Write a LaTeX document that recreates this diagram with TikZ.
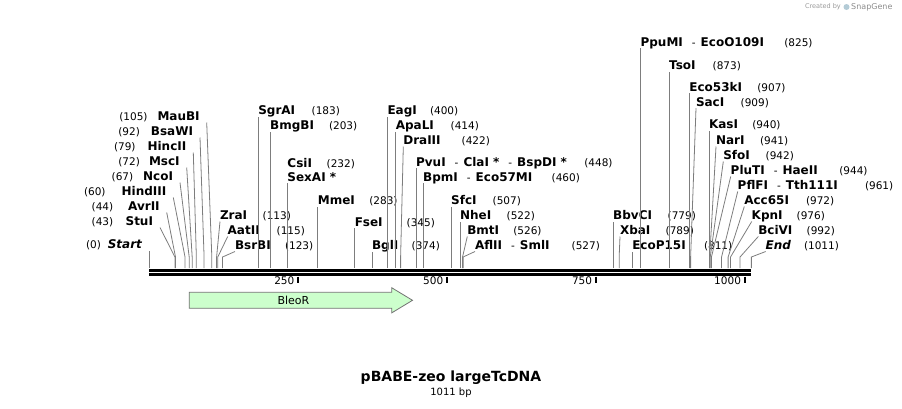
\documentclass[tikz,border=0pt]{standalone}
\usepackage{fontspec}
\setmainfont{DejaVu Sans}
\definecolor{cutgray}{RGB}{125,125,125}
\definecolor{bleogreen}{RGB}{204,255,204}
\definecolor{bleoedge}{RGB}{115,115,115}
\newcommand{\alsocut}{\hspace{9pt}{\mdseries\fontsize{10.5}{12}\selectfont-}\hspace{5pt}}
\tikzset{
  cut/.style={draw=cutgray,line width=.8pt},
  enz/.style={inner sep=0pt,outer sep=0pt,text depth=2.2pt,anchor=south west,font=\fontsize{12}{14}\selectfont\bfseries},
  enzl/.style={enz,anchor=south east,outer xsep=7pt},
  bpn/.style={enz,font=\fontsize{10.5}{12}\selectfont},
  tick/.style={line width=1.7pt},
  ticklabel/.style={inner sep=0pt,font=\fontsize{10.5}{12}\selectfont},
}
\begin{document}
\begin{tikzpicture}[x=1pt,y=-1pt]
\useasboundingbox (0,0) rectangle (902,408);
% map in bp
\begin{scope}[x=0.5955pt,xshift=149.3pt]
\coordinate (s0) at (0,268);       \coordinate (s43) at (43,268);   \coordinate (s44) at (44,268);
\coordinate (s60) at (60,268);     \coordinate (s67) at (67,268);   \coordinate (s72) at (72,268);
\coordinate (s79) at (79,268);     \coordinate (s92) at (92,268);   \coordinate (s105) at (105,268);
\coordinate (s113) at (113,268);   \coordinate (s115) at (115,268); \coordinate (s123) at (123,268);
\coordinate (s183) at (183,268);   \coordinate (s203) at (203,268); \coordinate (s232) at (232,268);
\coordinate (s283) at (283,268);   \coordinate (s345) at (345,268); \coordinate (s374) at (374,268);
\coordinate (s400) at (400,268);   \coordinate (s414) at (414,268); \coordinate (s422) at (422,268);
\coordinate (s448) at (448,268);   \coordinate (s460) at (460,268); \coordinate (s507) at (507,268);
\coordinate (s522) at (522,268);   \coordinate (s526) at (526,268); \coordinate (s527) at (527,268);
\coordinate (s779) at (779,268);   \coordinate (s789) at (789,268); \coordinate (s811) at (811,268);
\coordinate (s825) at (825,268);   \coordinate (s873) at (873,268); \coordinate (s907) at (907,268);
\coordinate (s909) at (909,268);   \coordinate (s940) at (940,268); \coordinate (s941) at (941,268);
\coordinate (s942) at (942,268);   \coordinate (s944) at (944,268); \coordinate (s961) at (961,268);
\coordinate (s972) at (972,268);   \coordinate (s976) at (976,268); \coordinate (s992) at (992,268);
\coordinate (s1011) at (1011,268);
\coordinate (bbl) at (0,270.3);    \coordinate (bbr) at (1011,270.3);
% backbone
\draw[line width=2.7pt] (bbl) -- (bbr);
\draw[line width=2.3pt] ([yshift=-4.2pt]bbl) -- ([yshift=-4.2pt]bbr);
% ticks
\draw[tick] (250,276.5) -- (250,283) node (t250) [pos=.7,left=3pt,ticklabel] {250};
\draw[tick] (500,276.5) -- (500,283) node (t500) [pos=.7,left=3pt,ticklabel] {500};
\draw[tick] (750,276.5) -- (750,283) node (t750) [pos=.7,left=3pt,ticklabel] {750};
\draw[tick] (1000,276.5) -- (1000,283) node (t1000) [pos=.7,left=3pt,ticklabel] {1000};
% feature
\draw[draw=bleoedge,fill=bleogreen,line width=.8pt] (67,292.3) -- (407,292.3) -- (407,287.7)
  -- (442,300.3) -- (407,312.9) -- (407,308.3) -- (67,308.3) -- cycle;
\node (bleor) at (242,300.3) {\fontsize{11}{12}\selectfont BleoR};
\end{scope}

% enzymes, left column
\node[enzl] (maubi) at (206.7,122.5) {MauBI};
\node[enzl] (bsawi) at (200,137.5) {BsaWI};
\node[enzl] (hincii) at (193.3,152.5) {HincII};
\node[enzl] (msci) at (186.7,167.5) {MscI};
\node[enzl] (ncoi) at (180,182.5) {NcoI};
\node[enzl] (hindiii) at (173.3,197.5) {HindIII};
\node[enzl] (avrii) at (166.7,212.5) {AvrII};
\node[enzl] (stui) at (160,227.5) {StuI};
\node[enzl] (start) at (s0 |- 0,250.5) {\textit{Start}};
\node[bpn] (n105) at (119.3,122.5) {(105)};
\node[bpn] (n92) at (118.3,137.5) {(92)};
\node[bpn] (n79) at (114,152.5) {(79)};
\node[bpn] (n72) at (118.3,167.5) {(72)};
\node[bpn] (n67) at (111.7,182.5) {(67)};
\node[bpn] (n60) at (84,197.5) {(60)};
\node[bpn] (n44) at (91.7,212.5) {(44)};
\node[bpn] (n43) at (91.7,227.5) {(43)};
\node[bpn] (n0) at (86,250.5) {(0)};
\draw[cut] (s105) -- ++(0,-11) -- (maubi.south east);
\draw[cut] (s92) -- ++(0,-11) -- (bsawi.south east);
\draw[cut] (s79) -- ++(0,-11) -- (hincii.south east);
\draw[cut] (s72) -- ++(0,-11) -- (msci.south east);
\draw[cut] (s67) -- ++(0,-11) -- (ncoi.south east);
\draw[cut] (s60) -- ++(0,-11) -- (hindiii.south east);
\draw[cut] (s44) -- ++(0,-11) -- (avrii.south east);
\draw[cut] (s43) -- ++(0,-11) -- (stui.south east);
\draw[cut] (s0) -- (start.south east);

% enzymes, right of their lines
\node[enz] (zrai) at (220,221.5) {ZraI};
\node[enz] (aatii) at (227.7,236.5) {AatII};
\node[enz] (bsrbi) at (235,251.5) {BsrBI};
\node[enz] (sgrai) at (s183 |- 0,116.5) {SgrAI};
\node[enz] (bmgbi) at (s203 |- 0,131.5) {BmgBI};
\node[enz] (csii) at (s232 |- 0,169.8) {CsiI};
\node[enz] (sexai) at (s232 |- 0,183.2) {SexAI *};
\node[enz] (mmei) at (s283 |- 0,206.5) {MmeI};
\node[enz] (fsei) at (s345 |- 0,228.2) {FseI};
\node[enz] (bgli) at (s374 |- 0,251.5) {BglI};
\node[enz] (eagi) at (s400 |- 0,116.5) {EagI};
\node[enz] (apali) at (s414 |- 0,131.5) {ApaLI};
\node[enz] (draiii) at (403.3,146.5) {DraIII};
\node[enz] (pvui) at (s448 |- 0,168.2) {PvuI\alsocut ClaI *\alsocut BspDI *};
\node[enz] (bpmi) at (s460 |- 0,183.2) {BpmI\alsocut Eco57MI};
\node[enz] (sfci) at (s507 |- 0,206.5) {SfcI};
\node[enz] (nhei) at (s522 |- 0,221.5) {NheI};
\node[enz] (bmti) at (467.3,236.5) {BmtI};
\node[enz] (aflii) at (475,251.5) {AflII\alsocut SmlI};
\node[enz] (bbvci) at (s779 |- 0,221.5) {BbvCI};
\node[enz] (xbai) at (620,236.5) {XbaI};
\node[enz] (ecop15i) at (s811 |- 0,251.5) {EcoP15I};
\node[enz] (ppumi) at (s825 |- 0,48.2) {PpuMI\alsocut EcoO109I};
\node[enz] (tsoi) at (s873 |- 0,71.5) {TsoI};
\node[enz] (eco53ki) at (s907 |- 0,93.2) {Eco53kI};
\node[enz] (saci) at (696,108.2) {SacI};
\node[enz] (kasi) at (s940 |- 0,130.8) {KasI};
\node[enz] (nari) at (716,146.5) {NarI};
\node[enz] (sfoi) at (723.3,161.5) {SfoI};
\node[enz] (pluti) at (730.7,176.5) {PluTI\alsocut HaeII};
\node[enz] (pflfi) at (737.7,191.5) {PflFI\alsocut Tth111I};
\node[enz] (acc65i) at (744.3,206.5) {Acc65I};
\node[enz] (kpni) at (751.7,221.5) {KpnI};
\node[enz] (bcivi) at (758.3,236.5) {BciVI};
\node[enz] (end) at (765.7,251.5) {\textit{End}};
% their positions
\node[bpn] (n113) at (262.7,221.5) {(113)};
\node[bpn] (n115) at (276.7,236.5) {(115)};
\node[bpn] (n123) at (285,251.5) {(123)};
\node[bpn] (n183) at (311.7,116.5) {(183)};
\node[bpn] (n203) at (329,131.5) {(203)};
\node[bpn] (n232) at (326.7,169.8) {(232)};
\node[bpn] (n283) at (369.3,206.5) {(283)};
\node[bpn] (n345) at (406.7,228.2) {(345)};
\node[bpn] (n374) at (411.7,251.5) {(374)};
\node[bpn] (n400) at (430,116.5) {(400)};
\node[bpn] (n414) at (450.7,131.5) {(414)};
\node[bpn] (n422) at (461.7,146.5) {(422)};
\node[bpn] (n448) at (584.3,168.2) {(448)};
\node[bpn] (n460) at (551.7,183.2) {(460)};
\node[bpn] (n507) at (492.7,206.5) {(507)};
\node[bpn] (n522) at (506.7,221.5) {(522)};
\node[bpn] (n526) at (513.3,236.5) {(526)};
\node[bpn] (n527) at (571.7,251.5) {(527)};
\node[bpn] (n779) at (667.7,221.5) {(779)};
\node[bpn] (n789) at (665.7,236.5) {(789)};
\node[bpn] (n811) at (704,251.5) {(811)};
\node[bpn] (n825) at (784.3,48.2) {(825)};
\node[bpn] (n873) at (712.7,71.5) {(873)};
\node[bpn] (n907) at (757.3,93.2) {(907)};
\node[bpn] (n909) at (740.7,108.2) {(909)};
\node[bpn] (n940) at (752.3,130.8) {(940)};
\node[bpn] (n941) at (760,146.5) {(941)};
\node[bpn] (n942) at (765.7,161.5) {(942)};
\node[bpn] (n944) at (839.3,176.5) {(944)};
\node[bpn] (n961) at (865,191.5) {(961)};
\node[bpn] (n972) at (806,206.5) {(972)};
\node[bpn] (n976) at (796.7,221.5) {(976)};
\node[bpn] (n992) at (806.7,236.5) {(992)};
\node[bpn] (n1011) at (804,251.5) {(1011)};
\draw[cut] (s113) -- ++(0,-11) -- (zrai.south west);
\draw[cut] (s115) -- ++(0,-11) -- (aatii.south west);
\draw[cut] (s123) -- ++(0,-11) -- (bsrbi.south west);
\draw[cut] (s183) -- (sgrai.south west);
\draw[cut] (s203) -- (bmgbi.south west);
\draw[cut] (s232) -- (sexai.south west);
\draw[cut] (s283) -- (mmei.south west);
\draw[cut] (s345) -- (fsei.south west);
\draw[cut] (s374) -- (bgli.south west);
\draw[cut] (s400) -- (eagi.south west);
\draw[cut] (s414) -- (apali.south west);
\draw[cut] (s422) -- ++(0,-11) -- (draiii.south west);
\draw[cut] (s448) -- (pvui.south west);
\draw[cut] (s460) -- (bpmi.south west);
\draw[cut] (s507) -- (sfci.south west);
\draw[cut] (s522) -- (nhei.south west);
\draw[cut] (s526) -- ++(0,-11) -- (bmti.south west);
\draw[cut] (s527) -- ++(0,-11) -- (aflii.south west);
\draw[cut] (s779) -- (bbvci.south west);
\draw[cut] (s789) -- ++(0,-11) -- (xbai.south west);
\draw[cut] (s811) -- (ecop15i.south west);
\draw[cut] (s825) -- (ppumi.south west);
\draw[cut] (s873) -- (tsoi.south west);
\draw[cut] (s907) -- (eco53ki.south west);
\draw[cut] (s909) -- ++(0,-11) -- (saci.south west);
\draw[cut] (s940) -- (kasi.south west);
\draw[cut] (s941) -- ++(0,-11) -- (nari.south west);
\draw[cut] (s942) -- ++(0,-11) -- (sfoi.south west);
\draw[cut] (s944) -- ++(0,-11) -- (pluti.south west);
\draw[cut] (s961) -- ++(0,-11) -- (pflfi.south west);
\draw[cut] (s972) -- ++(0,-11) -- (acc65i.south west);
\draw[cut] (s976) -- ++(0,-11) -- (kpni.south west);
\draw[cut] (s992) -- ++(0,-11) -- (bcivi.south west);
\draw[cut] (s1011) -- ++(0,-11) -- (end.south west);

% title
\node (title) at (451,378) {\fontsize{14}{16}\selectfont\bfseries pBABE-zeo largeTcDNA};
\node (size) at (451,392.5) {\fontsize{10}{12}\selectfont 1011 bp};
\node[anchor=east,inner sep=0pt,text=black!40] (created) at (841,7) {\fontsize{6.5}{8}\selectfont Created by};
\fill[cyan!50!black!35] (846.5,7) circle (3);
\node[anchor=west,inner sep=0pt,text=black!45] (snapgene) at (851,7) {\fontsize{8}{9}\selectfont SnapGene};
\end{tikzpicture}
\end{document}
